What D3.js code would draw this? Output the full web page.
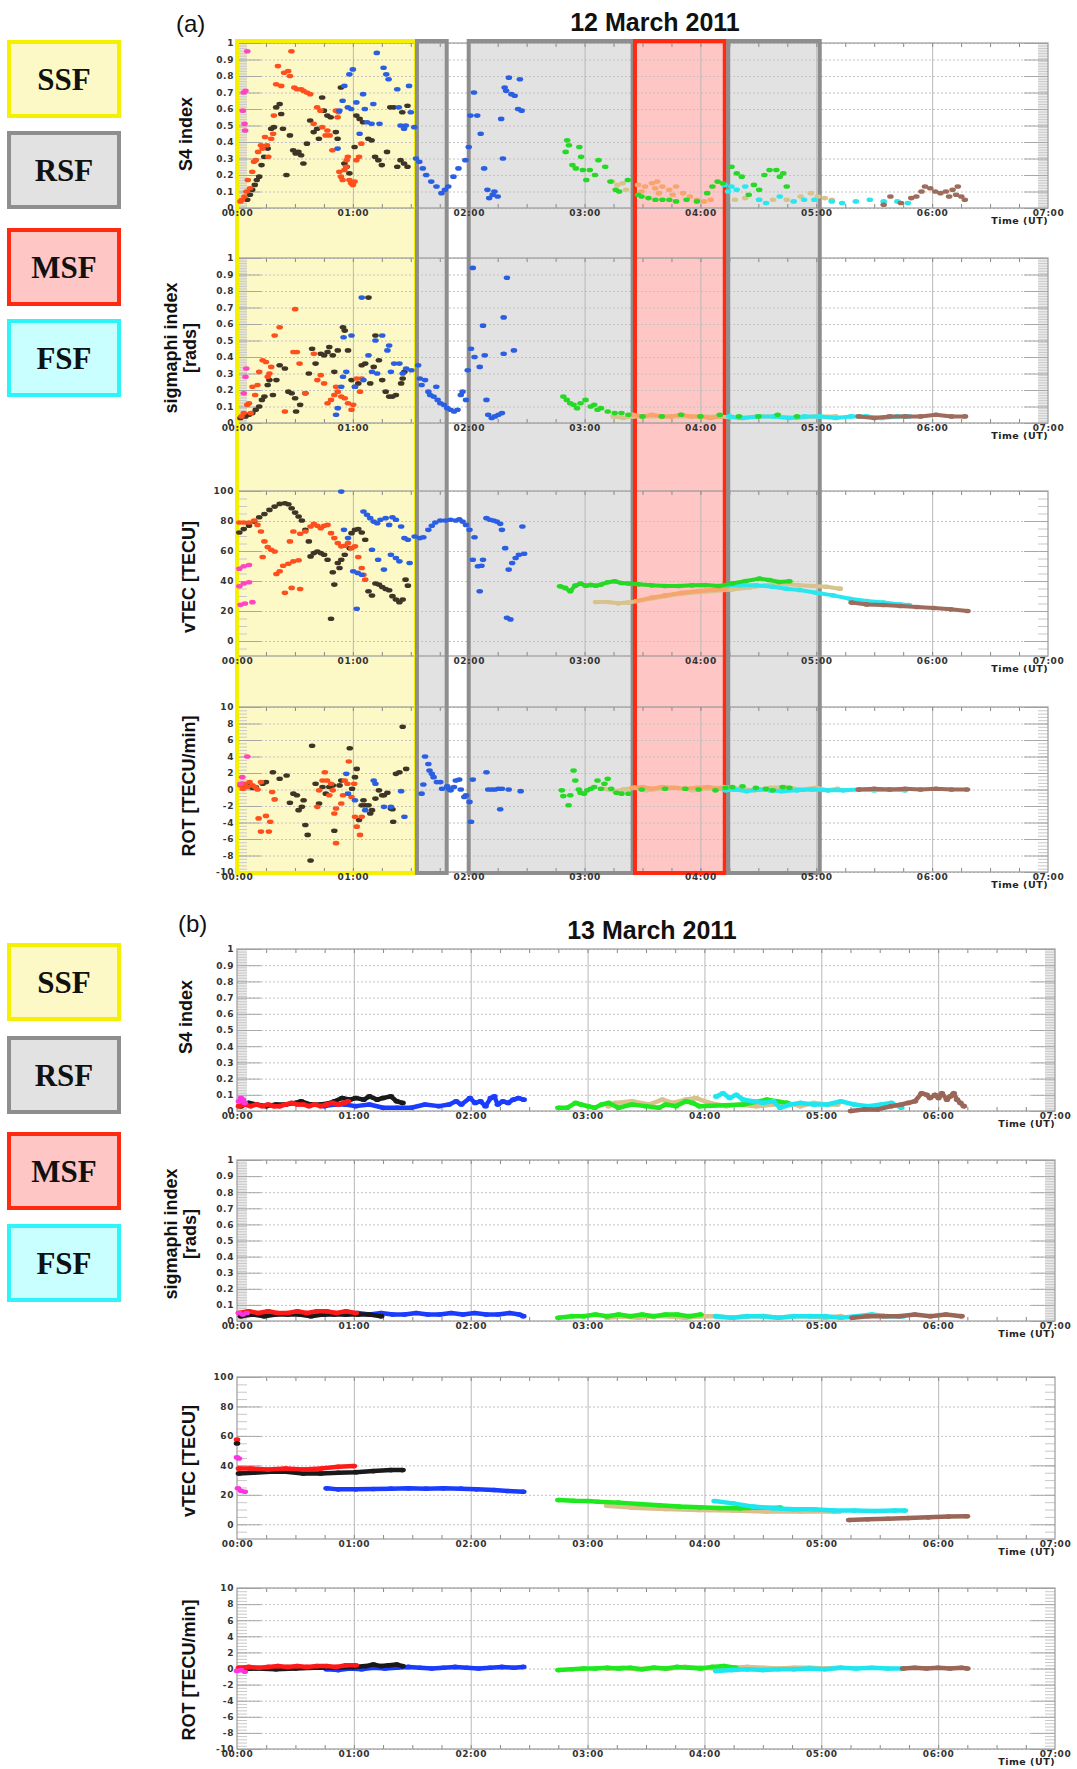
<!DOCTYPE html>
<html>
<head>
<meta charset="utf-8">
<script src="https://cdn.jsdelivr.net/npm/d3@7"></script>
<style>
  body { margin: 0; background: #fff; }
  text { font-family: "Liberation Sans", Arial, sans-serif; }
  .tick text { font-family: "DejaVu Sans", sans-serif; font-weight: bold; font-size: 9px; letter-spacing: 0.6px; fill: #333; }
  .legend-text { font-family: "Liberation Serif", "Times New Roman", serif; font-weight: bold; }
  .time-label { font-family: "DejaVu Sans", sans-serif; font-weight: bold; }
</style>
</head>
<body>
<svg id="fig"></svg>
<script>
// ---- axis / category data ----
const hourTicks = [0, 60, 120, 180, 240, 300, 360, 420];
const hourLabels = ["00:00", "01:00", "02:00", "03:00", "04:00", "05:00", "06:00", "07:00"];
const s4Ticks = [0, 0.1, 0.2, 0.3, 0.4, 0.5, 0.6, 0.7, 0.8, 0.9, 1];
const s4Labels = ["0", "0.1", "0.2", "0.3", "0.4", "0.5", "0.6", "0.7", "0.8", "0.9", "1"];
const tecTicks = [0, 20, 40, 60, 80, 100];
const rotTicks = [-10, -8, -6, -4, -2, 0, 2, 4, 6, 8, 10];
const legendNames = ["SSF", "RSF", "MSF", "FSF"];

// shaded intervals on 12 March (minutes after 00:00 UT)
const shadeKind = ["SSF", "RSF", "RSF", "MSF", "RSF"];
const shadeStart = [0, 93.2, 120, 206.1, 254.4];
const shadeEnd = [92.7, 108.6, 204.9, 252.6, 301.8];

// ---- 12 March 2011 : [minute, value] ----
const s4A_pink = [[5.3,.95],[4.4,.71],[3.5,.70],[3.0,.59],[3.9,.51],[4.2,.47]];
const s4A_orange = [[1.8,.04],[2.6,.05],[3.9,.07],[4.9,.10],[5.6,.17],[6.7,.12],[7.9,.22],[8.8,.28],[9.7,.29],[10.9,.34],[12.4,.38],[13.2,.36],[14.5,.43],[15.5,.38],[16.2,.31],[17.7,.42],[18.7,.45],[19.1,.56],[20.3,.75],[21.2,.86],[22.9,.74],[24.4,.82],[26.5,.83],[27.4,.80],[28.2,.95],[29.7,.73],[31.1,.72],[33.2,.72],[34.4,.71],[36.2,.70],[37.9,.69],[39.7,.51],[41.5,.61],[43.2,.59],[44.1,.49],[45.9,.44],[46.8,.47],[48.0,.44],[49.4,.35],[51.2,.59],[52.1,.55],[52.6,.58],[53.0,.22],[53.8,.19],[54.7,.17],[55.6,.23],[56.5,.25],[56.8,.29],[57.4,.31],[58.2,.17],[59.1,.15],[60.0,.14],[60.9,.16],[61.8,.29],[63.2,.31],[64.4,.39]];
const s4A_dark = [[5.3,.05],[6.7,.08],[7.9,.11],[9.2,.14],[10.2,.17],[11.5,.19],[12.7,.26],[14.1,.31],[15.9,.36],[17.7,.48],[19.1,.49],[20.3,.61],[22.1,.63],[22.9,.57],[23.8,.48],[25.6,.20],[27.4,.44],[29.1,.35],[30.4,.33],[31.8,.34],[33.2,.32],[34.4,.27],[36.2,.39],[37.9,.53],[39.7,.46],[41.5,.48],[42.4,.42],[44.1,.67],[45.0,.59],[46.8,.56],[48.5,.55],[51.2,.46],[52.1,.42],[53.8,.73],[55.6,.27],[56.8,.25],[58.2,.21],[60.9,.37],[61.8,.56],[63.5,.54],[65.3,.52],[68.0,.42],[69.7,.41],[71.5,.31],[73.2,.29],[75.0,.26],[77.7,.34],[79.4,.61],[81.2,.61],[83.0,.25],[84.7,.29],[85.6,.58],[86.5,.27],[88.3,.25],[88.3,.62]];
const s4A_blue = [[52.1,.36],[53.0,.59],[54.7,.65],[55.6,.74],[57.4,.61],[58.2,.81],[59.1,.60],[60.0,.84],[61.8,.64],[63.5,.45],[65.3,.69],[66.2,.60],[67.4,.52],[69.7,.51],[70.6,.63],[72.4,.94],[73.8,.51],[75.9,.85],[77.3,.81],[78.5,.78],[83.0,.72],[83.8,.61],[84.7,.50],[86.5,.48],[87.4,.50],[89.1,.74],[90.0,.58],[91.8,.49],[92.7,.30],[94.4,.28],[96.2,.24],[98.0,.20],[100.6,.16],[103.3,.13],[105.9,.09],[107.7,.11],[109.4,.13],[112.1,.19],[114.7,.24],[118.3,.29],[120.0,.37],[120.9,.56],[122.7,.70],[124.4,.56],[126.2,.45],[128.0,.24],[129.7,.11],[130.6,.06],[132.4,.08],[133.3,.10],[135.0,.07],[136.8,.54],[137.7,.30],[138.6,.73],[139.4,.71],[140.8,.79],[142.1,.69],[143.8,.68],[145.6,.60],[146.5,.78],[147.4,.59]];
const s4A_green = [[171.0,.41],[171.9,.38],[170.2,.34],[173.7,.26],[177.3,.37],[178.2,.31],[175.5,.24],[179.1,.23],[180.9,.17],[182.7,.23],[185.4,.20],[187.2,.29],[190.7,.25],[193.4,.16],[196.1,.11],[197.9,.10],[202.4,.17],[207.7,.08],[209.5,.07],[213.1,.06],[216.7,.05],[220.3,.05],[223.9,.05],[227.4,.04],[232.8,.05],[238.2,.04],[243.5,.09],[246.2,.13],[248.9,.16],[251.6,.15],[256.1,.25],[258.8,.21],[261.4,.19],[265.0,.08],[267.7,.14],[270.4,.11],[273.1,.20],[275.8,.23],[279.3,.23],[281.1,.19],[282.9,.21],[284.7,.13]];
const s4A_tan = [[194.3,.16],[197.0,.14],[199.7,.15],[201.5,.11],[257.9,.05],[263.2,.06],[270.4,.05],[277.6,.05],[284.7,.05],[291.9,.07],[297.2,.09],[300.8,.07],[304.4,.06],[308.0,.05]];
const s4A_peach = [[207.7,.14],[209.5,.10],[211.3,.13],[214.9,.15],[216.6,.12],[217.6,.16],[218.5,.09],[220.3,.13],[223.9,.11],[225.6,.08],[227.4,.13],[231.0,.09],[234.6,.07],[238.2,.05],[241.8,.04],[245.3,.05]];
const s4A_cyan = [[252.5,.14],[254.3,.10],[256.1,.13],[258.8,.11],[263.2,.13],[270.4,.05],[274.0,.03],[281.1,.07],[288.3,.04],[293.7,.05],[299.0,.05],[308.0,.04],[313.4,.03],[320.5,.04],[327.7,.05],[334.9,.04],[342.0,.04],[347.4,.03]];
const s4A_brown = [[334.9,.02],[338.4,.07],[343.8,.03],[349.2,.06],[351.8,.07],[354.5,.10],[356.3,.13],[359.0,.12],[361.6,.10],[364.3,.09],[367.1,.10],[368.8,.07],[370.6,.11],[372.4,.08],[373.3,.13],[375.1,.07],[376.9,.05]];

const sigA_pink = [[4.8,.33],[4.4,.28],[3.5,.18]];
const sigA_orange = [[2.3,.04],[3.5,.06],[5.3,.11],[6.2,.12],[7.1,.06],[8.0,.22],[9.4,.17],[10.6,.23],[11.5,.31],[13.3,.38],[15.0,.37],[15.9,.28],[16.8,.30],[17.7,.34],[19.5,.53],[22.1,.58],[24.8,.07],[29.2,.43],[31.0,.43],[32.4,.36],[30.1,.69],[35.4,.18],[39.8,.42],[41.6,.26],[43.4,.29],[45.1,.24],[46.9,.12],[48.7,.14],[50.4,.17],[51.3,.22],[52.2,.19],[54.0,.16],[55.8,.15],[57.5,.12],[59.3,.08],[60.2,.11],[62.0,.27],[63.7,.19],[64.6,.27]];
const sigA_dark = [[1.8,.03],[4.4,.04],[6.2,.05],[8.0,.06],[9.7,.08],[11.5,.10],[12.9,.14],[14.2,.16],[15.9,.23],[16.8,.26],[18.6,.17],[20.4,.26],[22.1,.35],[24.8,.33],[26.6,.19],[28.3,.18],[30.1,.15],[30.6,.07],[32.7,.11],[35.4,.18],[37.2,.30],[38.9,.45],[40.7,.36],[43.4,.42],[45.1,.41],[46.9,.43],[47.8,.46],[49.6,.41],[50.4,.31],[52.2,.44],[54.9,.58],[55.8,.56],[57.5,.44],[59.3,.26],[61.1,.22],[62.8,.24],[64.6,.35],[66.4,.36],[68.1,.76],[69.0,.24],[70.8,.34],[71.7,.53],[73.5,.38],[75.2,.26],[77.0,.19],[78.8,.16],[80.5,.16],[82.3,.17],[85.0,.24],[85.8,.27],[86.7,.31]];
const sigA_blue = [[51.3,.05],[52.2,.09],[54.0,.22],[54.9,.28],[56.6,.31],[55.2,.52],[59.3,.53],[61.1,.22],[64.6,.76],[65.5,.26],[68.1,.41],[69.9,.31],[71.7,.50],[72.6,.30],[75.2,.53],[77.9,.44],[78.8,.47],[79.7,.31],[81.4,.36],[84.1,.36],[85.8,.30],[87.6,.33],[90.3,.32],[93.8,.35],[94.7,.27],[95.6,.23],[97.4,.26],[99.1,.19],[100.0,.17],[101.8,.16],[103.2,.22],[103.9,.14],[105.3,.12],[107.1,.11],[108.9,.09],[110.6,.08],[112.4,.07],[114.2,.08],[115.9,.17],[116.8,.19],[118.6,.14],[119.5,.32],[121.2,.45],[122.1,.94],[123.0,.40],[125.7,.34],[127.4,.59],[128.3,.41],[129.2,.14],[130.1,.05],[131.9,.03],[133.6,.04],[135.4,.05],[137.2,.06],[138.1,.42],[138.1,.64],[139.8,.88],[143.4,.44]];
const sigA_green = [[169.0,.16],[170.8,.14],[172.6,.12],[174.3,.11],[176.1,.09],[177.9,.12],[180.5,.14],[183.2,.10],[185.0,.11],[186.7,.08],[188.5,.09],[192.0,.07],[195.6,.06],[199.1,.06],[202.7,.05],[210,.04],[220,.04],[230,.05],[240,.04],[250,.05],[260,.04],[270,.04],[280,.05],[290,.04]];
const sigA_tan = [[195,.04],[200,.03],[205,.04],[250,.04],[260,.03],[270,.04],[280,.04],[290,.03],[300,.04],[310,.04]];
const sigA_peach = [[205,.05],[210,.04],[215,.05],[220,.04],[225,.04],[230,.05],[235,.04],[240,.04],[245,.03],[250,.04]];
const sigA_cyan = [[255,.04],[262,.03],[270,.04],[278,.04],[286,.03],[294,.04],[302,.04],[310,.03],[318,.04],[326,.04],[334,.03],[342,.04],[348,.04]];
const sigA_brown = [[322,.04],[330,.03],[338,.04],[346,.04],[354,.04],[362,.05],[370,.04],[377,.04]];

const tecA_pink = [[1.2,48.2],[3.5,49.8],[6.2,50.7],[1.2,36.5],[3.5,38.3],[6.2,39.2],[1.8,24.1],[4.1,25.0],[8.0,25.9]];
const tecA_dark = [[1.2,72.3],[3.5,74.6],[6.2,76.8],[8.9,79.6],[11.5,82.5],[14.2,84.7],[16.8,87.4],[19.5,89.6],[22.1,91.4],[24.8,91.8],[26.6,91.2],[28.3,88.5],[30.1,85.6],[31.9,83.0],[33.6,80.3],[35.4,74.1],[37.2,66.4],[38.1,56.4],[39.8,58.6],[41.6,59.7],[43.4,58.6],[45.1,57.5],[46.9,54.2],[48.7,14.8],[49.6,45.8],[50.4,37.6],[52.2,52.0],[53.1,48.7],[54.0,54.2],[55.8,57.5],[58.4,61.9],[59.3,71.9],[61.1,74.1],[62.8,74.6],[64.6,72.3],[66.4,67.5],[68.1,33.2],[69.9,30.3],[71.7,38.3],[73.5,37.6],[75.2,36.0],[77.0,34.7],[78.8,33.8],[80.5,29.9],[82.3,27.7],[84.1,25.9],[85.8,27.7],[87.3,40.9],[88.5,36.9]];
const tecA_orange = [[1.2,79.0],[3.5,79.0],[6.2,79.0],[8.9,80.3],[10.6,77.4],[12.4,73.0],[14.2,66.4],[15.9,62.6],[17.7,60.8],[19.5,59.7],[13.3,56.0],[20.4,44.7],[22.1,46.5],[23.9,50.2],[26.6,51.5],[29.2,53.1],[31.9,53.8],[24.8,32.1],[28.3,35.4],[32.7,34.7],[27.4,66.4],[29.2,73.0],[32.7,71.5],[35.4,73.0],[38.1,76.3],[39.8,78.1],[41.6,76.8],[43.4,75.2],[45.1,76.8],[46.9,77.4],[48.7,71.9],[50.4,68.6],[52.2,65.3],[54.0,63.1],[55.8,63.5],[57.5,65.3],[59.3,61.9],[61.1,63.1],[62.8,56.0],[64.6,48.7],[65.5,44.2],[66.4,40.9]];
const tecA_blue = [[54.0,99.6],[55.4,74.1],[57.5,68.6],[60.2,46.5],[62.5,45.4],[64.6,44.2],[62.0,21.5],[65.5,86.3],[67.3,84.1],[69.0,81.9],[70.8,79.6],[72.6,78.5],[74.3,80.8],[77.0,81.9],[78.8,77.4],[80.5,82.5],[82.3,80.8],[85.0,76.3],[69.9,60.8],[73.1,54.2],[76.1,47.6],[79.7,57.5],[82.3,55.3],[84.1,53.1],[86.7,68.6],[88.5,67.5],[89.4,52.0],[92.0,69.7],[94.7,68.6],[96.5,69.2],[99.1,74.1],[100.9,76.8],[102.7,79.0],[105.3,80.3],[108.0,80.3],[110.6,80.8],[113.3,80.3],[115.1,81.2],[116.8,79.6],[118.6,77.4],[120.4,74.1],[122.1,54.2],[123.0,69.2],[124.8,49.8],[125.7,33.2],[126.6,50.2],[127.4,54.2],[129.2,81.9],[131.0,80.8],[132.8,80.3],[134.5,79.6],[136.3,78.1],[137.2,74.1],[138.9,61.9],[139.8,15.5],[140.7,47.6],[141.6,14.4],[142.5,52.0],[144.3,55.3],[146.0,57.5],[147.8,76.3],[148.7,58.2]];
const tecA_green = [[167.3,36.5],[169.9,35.4],[172.6,33.2],[175.2,36.9],[177.9,38.3],[180.5,36.9],[183.2,37.4],[185.9,36.9],[188.5,37.6],[192.0,39.2],[195.6,39.8],[199.1,38.7],[202.7,38.3],[207.8,37.8],[214.8,37.1],[221.7,36.7],[228.7,36.7],[235.7,37.1],[242.6,37.3],[249.6,36.7],[256.5,38.4],[263.5,40.0],[270.5,41.6],[275.7,40.7],[280.9,39.3],[286.1,39.8]];
const tecA_tan = [[185.9,26.0],[192.2,26.0],[197.4,25.1],[202.6,25.6],[230,31.5],[256.5,34.4],[265.2,35.6],[273.9,37.1],[282.6,38.4],[291.3,37.1],[298.3,36.7],[305.3,36.2],[312.2,34.9]];
const tecA_peach = [[206.9,26.7],[214.8,28.9],[221.7,30.4],[230.4,32.2],[239.1,33.3],[247.8,34.4],[253.0,34.4]];
const tecA_cyan = [[253.9,37.1],[260.0,37.1],[268.7,37.1],[277.4,36.2],[284.4,34.9],[291.3,34.0],[300.0,32.2],[308.7,30.4],[317.4,28.2],[326.1,26.7],[334.8,25.6],[343.5,24.4],[347.9,24.0]];
const tecA_brown = [[318.3,25.6],[326.1,24.4],[334.8,24.0],[343.5,23.3],[352.2,22.7],[360.9,22.0],[369.6,21.1],[378.3,20.0]];

const rotA_pink = [[5.3,4.0],[2.7,1.5],[1.8,0.7]];
const rotA_orange = [[1.8,.5],[3.0,.1],[4.1,.7],[5.3,.3],[6.5,.9],[8.0,.5],[9.4,.3],[10.6,0],[12.4,.9],[11.2,-3.5],[12.4,-5.1],[15.0,-3.2],[16.5,-5.1],[17.2,-3.9],[18.2,-.3],[19.5,-1.2],[41.6,-2.1],[42.5,-.1],[44.3,1.1],[45.5,2.1],[46.6,1.1],[47.8,-.7],[48.7,.7],[49.6,-.1],[50.4,-2.9],[51.3,-2.3],[51.3,-6.5],[54.0,-1.7],[54.9,-.7],[55.8,1.1],[57.2,.7],[57.9,3.4],[59.3,-.9],[60.7,.7],[61.1,-3.3],[62.0,-4.5],[63.7,-5.5],[64.6,-3.3]];
const rotA_dark = [[2.7,.7],[4.4,.5],[6.2,.4],[8.0,.2],[9.7,.3],[13.3,.7],[15.0,.9],[18.6,2.1],[22.1,1.3],[25.7,1.7],[27.4,-1.6],[29.2,-.5],[31.0,-.7],[31.9,-2.5],[33.6,-2.1],[34.5,-1.3],[35.4,-4.3],[36.6,-5.5],[38.1,-8.6],[38.9,5.3],[40.7,.7],[42.5,-1.7],[44.3,.3],[46.0,-.5],[47.8,.3],[49.6,.5],[50.4,-5.0],[53.1,.5],[54.0,1.1],[58.4,5.0],[59.6,.1],[61.1,1.5],[62.0,2.5],[63.2,-3.7],[64.6,-1.9],[65.5,-1.3],[66.4,-1.9],[68.1,-1.9],[69.0,-2.9],[69.9,-2.5],[71.7,-1.1],[73.5,-.1],[75.2,-.7],[76.1,-.7],[77.9,-.4],[79.7,-2.3],[80.5,-2.4],[80.9,-3.9],[82.3,1.9],[84.1,2.1],[85.8,7.6],[87.6,2.5]];
const rotA_blue = [[56.6,1.9],[57.5,-.5],[61.1,-1.3],[66.4,-2.5],[70.8,1.1],[71.7,.7],[76.1,-2.1],[79.7,-2.1],[85.0,-.2],[86.7,-3.3],[95.6,-.5],[96.5,.6],[97.4,4.0],[99.1,3.1],[99.7,2.3],[100.9,1.9],[101.8,1.5],[103.5,.9],[105.3,.9],[106.2,.1],[108.9,.4],[109.7,.1],[110.6,-.1],[112.4,.3],[113.3,1.1],[115.1,1.2],[115.9,0],[117.7,-.9],[118.6,-.7],[120.4,-1.5],[121.2,-3.9],[122.1,1.2],[129.2,2.1],[130.1,0],[131.9,0],[133.6,0],[135.4,.1],[136.3,-2.4],[137.2,.1],[140.7,0],[146.9,-.2]];
const rotA_green = [[168.2,-.1],[169.0,-.8],[171.7,-1.9],[172.6,-.7],[174.3,2.3],[175.2,1.1],[177.0,0],[177.9,-.4],[179.7,-.5],[181.4,-.1],[183.2,.1],[185.0,.3],[186.7,1.1],[188.5,.1],[190.3,.7],[192.0,1.3],[193.8,.1],[196.5,-.4],[199.1,-.5],[202.7,-.5],[209.6,0],[221.7,.1],[232.2,.1],[239.1,0],[247.8,-.1],[253.0,.2],[256.5,.3],[261.8,.4],[268.7,.2],[273.9,.1],[277.4,-.1],[282.6,.3],[286.1,.2]];
const rotA_tan = [[190,.1],[196,-.2],[200,0],[206,.2],[212,-.1],[220,.1],[228,.2],[236,-.1],[244,.1],[252,.3],[260,.1],[268,-.1],[276,.2],[284,.3],[292,0],[300,.2],[306,-.1],[311,.1]];
const rotA_peach = [[205,.2],[210,.3],[215,.1],[220,.3],[226,.2],[232,.1],[238,.2],[244,.3],[250,.1]];
const rotA_cyan = [[253,-.1],[258,0],[264,-.2],[270,0],[276,-.1],[282,-.2],[290,-.1],[298,0],[306,-.1],[314,-.1],[322,0],[330,-.1],[338,0],[346,-.1]];
const rotA_brown = [[322,0],[330,.1],[338,0],[346,.1],[354,0],[362,.1],[370,0],[378,0]];

// ---- 13 March 2011 : [minute, value] ----
const s4B_pink = [[1,.06],[2,.08],[3,.07],[4,.05]];
const s4B_red = [[1,.03],[4,.04],[7,.03],[10,.04],[13,.03],[16,.04],[19,.03],[22,.03],[25,.04],[28,.05],[31,.04],[34,.04],[37,.03],[40,.04],[43,.03],[46,.04],[49,.05],[52,.04],[55,.05],[57,.06]];
const s4B_black = [[2,.03],[6,.05],[10,.04],[15,.03],[20,.04],[25,.04],[30,.05],[33,.06],[38,.04],[43,.04],[48,.05],[50,.06],[54,.08],[58,.07],[61,.08],[65,.07],[68,.09],[72,.07],[75,.08],[79,.09],[82,.06],[85,.05]];
const s4B_blue = [[44.9,.03],[50.2,.04],[55.5,.04],[60.9,.03],[68.0,.04],[75.1,.02],[82.2,.02],[89.4,.02],[96.5,.04],[103.6,.03],[108.9,.04],[112.5,.06],[115.2,.04],[119.6,.08],[122.3,.05],[125.0,.06],[127.6,.03],[130.3,.08],[132.1,.09],[133.9,.04],[136.5,.06],[139.2,.05],[141.9,.07],[144.5,.08],[147.2,.07]];
const s4B_green = [[165.0,.02],[169.5,.02],[173.9,.05],[176.6,.04],[180.1,.03],[183.7,.02],[187.3,.04],[190.8,.05],[195.9,.02],[202.8,.04],[209.7,.03],[216.7,.02],[220.1,.04],[225.3,.03],[230.5,.06],[233.9,.05],[237.4,.03],[259.9,.04],[272.0,.07],[277.2,.06],[282.4,.05]];
const s4B_tan = [[190.8,.03],[194.2,.05],[202.8,.06],[211.5,.04],[218.4,.07],[223.6,.05],[230.5,.07],[235.7,.08],[242.6,.05],[251.2,.03],[258.2,.04],[266.8,.03],[275.4,.04],[282.4,.05],[289.3,.03],[296.2,.05],[303.1,.04],[308.3,.04]];
const s4B_cyan = [[246.1,.09],[249.5,.11],[253.0,.08],[256.4,.10],[259.9,.07],[265.1,.06],[270.3,.05],[275.4,.06],[278.9,.02],[284.1,.04],[289.3,.05],[296.2,.04],[303.1,.04],[310.0,.06],[316.9,.04],[323.9,.03],[330.8,.04],[336.0,.05],[341.1,.02]];
const s4B_brown = [[315.2,0],[322.1,.01],[329.0,.01],[336.0,.03],[341.1,.04],[344.6,.05],[348.1,.06],[351.5,.11],[354.1,.10],[355.8,.08],[358.4,.10],[360.2,.08],[361.9,.11],[364.5,.07],[366.2,.09],[368.0,.11],[369.7,.07],[371.4,.05],[373.2,.03]];

const sigB_pink = [[1,.05],[3,.04],[5,.05]];
const sigB_red = [[1,.05],[6,.06],[11,.05],[16,.06],[21,.05],[26,.05],[31,.06],[36,.05],[41,.06],[46,.06],[51,.05],[56,.06],[61,.05]];
const sigB_black = [[2,.03],[8,.04],[14,.03],[20,.04],[26,.04],[32,.04],[38,.03],[44,.04],[50,.04],[56,.04],[62,.04],[68,.04],[74,.03]];
const sigB_blue = [[45,.04],[50,.05],[56,.04],[62,.05],[68,.04],[74,.05],[80,.04],[86,.04],[92,.05],[98,.04],[104,.04],[110,.05],[116,.04],[122,.05],[128,.04],[134,.04],[140,.05],[145,.04],[147,.03]];
const sigB_green = [[165,.02],[172,.03],[178,.03],[184,.04],[190,.03],[196,.04],[202,.03],[208,.04],[214,.03],[220,.04],[226,.04],[232,.03],[238,.04]];
const sigB_tan = [[190,.02],[198,.03],[206,.02],[214,.03],[222,.03],[230,.02],[238,.03],[246,.03],[254,.02],[262,.03],[270,.03],[278,.02],[286,.03],[294,.03],[302,.02],[310,.03]];
const sigB_cyan = [[246,.03],[254,.02],[262,.03],[270,.03],[278,.02],[286,.03],[294,.03],[302,.03],[310,.02],[318,.03],[326,.04],[334,.03],[342,.03]];
const sigB_brown = [[316,.02],[324,.03],[332,.03],[340,.03],[348,.04],[356,.03],[364,.04],[372,.03]];

const tecB_pink = [[0,45.4],[1,44.7],[0.5,24.4],[2,22.8],[4,22.1]];
const tecB_startDots = [[0,57.6],[0,54.9]];
const tecB_red = [[1,37.9],[7,37.9],[16,37.2],[25,37.9],[34,37.2],[43,37.9],[52,39.0],[60,39.5]];
const tecB_black = [[1,34.5],[8,35.0],[17,35.7],[25,35.7],[34,34.5],[43,34.5],[52,35.0],[61,35.4],[70,36.1],[79,36.8],[85,36.8]];
const tecB_blue = [[46,24.4],[52,23.7],[61,23.7],[70,23.9],[79,24.2],[88,24.4],[97,24.2],[106,24.4],[115,24.2],[123,23.7],[132,23.3],[139,22.6],[147,22.1]];
const tecB_green = [[165.0,16.5],[173.0,16.0],[180.1,15.8],[185.5,15.3],[195.9,14.7],[206.3,13.8],[216.7,12.9],[227.0,12.0],[237.4,11.5],[247.8,11.1],[258.2,10.8],[265.1,11.3],[278.9,11.3]];
const tecB_tan = [[190,12.6],[202.8,11.3],[220.1,10.4],[237.4,9.7],[254.7,9.3],[272.0,8.6],[289.3,8.6],[306.6,8.6],[309.2,8.6]];
const tecB_cyan = [[245.2,15.8],[254.7,14.2],[265.1,12.0],[275.4,10.8],[285.8,10.2],[296.2,10.2],[306.6,9.3],[317.0,9.3],[327.3,9.0],[337.7,9.3],[342.9,9.3]];
const tecB_brown = [[314.3,2.9],[323.9,3.4],[334.2,3.8],[344.6,4.3],[355.0,4.7],[365.3,5.2],[374.8,5.4]];

const rotB_pink = [[0,-.3],[2,-.2],[4,-.4]];
const rotB_red = [[1,.1],[6,.2],[11,.1],[16,.2],[21,.3],[26,.2],[31,.3],[36,.2],[41,.3],[46,.3],[51,.2],[56,.4],[61,.4]];
const rotB_black = [[1,-.1],[10,0],[20,-.1],[30,0],[40,.1],[50,.1],[60,.2],[66,.3],[70,.5],[74,.3],[78,.4],[82,.5],[85,.3]];
const rotB_blue = [[46,-.1],[52,-.2],[58,0],[64,-.1],[70,.1],[76,0],[82,.1],[88,.2],[94,.1],[100,0],[106,.1],[112,.2],[118,.1],[124,0],[130,.1],[136,.2],[142,.1],[147,.2]];
const rotB_green = [[165,-.2],[172,-.1],[178,0],[184,0],[190,.1],[196,0],[202,.1],[208,-.1],[214,.1],[220,0],[226,.2],[232,.1],[238,0],[244,.2],[250,.3],[256,.1]];
const rotB_tan = [[190,0],[198,.1],[206,-.1],[214,.1],[222,0],[230,.2],[238,.1],[246,0],[254,.1],[262,.2],[270,.1],[278,0],[286,.1],[294,.1],[302,0],[310,.1]];
const rotB_cyan = [[246,-.3],[254,-.2],[262,-.1],[270,-.2],[278,-.1],[286,-.1],[294,0],[302,-.1],[310,.1],[318,0],[326,.1],[334,0],[342,0]];
const rotB_brown = [[342,0],[348,.1],[354,0],[360,.1],[366,0],[372,.1],[375,0]];

// ---- styles ----
const colA = { pink: "#ff45c0", orange: "#ff4f1c", dark: "#3e3526", blue: "#2b5fe3", green: "#27d827",
  tan: "#d8c28e", peach: "#f6a56c", cyan: "#2ae7ef", brown: "#9d6c5c" };
const colB = { pink: "#ff33e0", red: "#ff1a1a", black: "#1a1a1a", blue: "#1a3cff", green: "#1ee81e",
  tan: "#d9c08c", cyan: "#1ee6f0", brown: "#9a6658" };
const boxStyle = {
  SSF: { fill: "#fdf9c6", stroke: "#f4f000" },
  RSF: { fill: "#e2e2e2", stroke: "#8e8e8e" },
  MSF: { fill: "#ffc6c6", stroke: "#ff2a10" },
  FSF: { fill: "#caffff", stroke: "#2cf4f8" }
};

const svg = d3.select("#fig").attr("width", 1077).attr("height", 1769);
svg.append("rect").attr("width", 1077).attr("height", 1769).attr("fill", "#fff");

const gFill = svg.append("g");
const gGrid = svg.append("g");
const gBorder = svg.append("g");
const gData = svg.append("g");
const gText = svg.append("g");

const figA = {
  x: d3.scaleLinear().domain([0, 420]).range([237, 1048]),
  panels: [
    { top: 43, bottom: 208, domain: [0, 1], ticks: s4Ticks, fmt: (d, i) => s4Labels[i], minor: 0.01,
      title: ["S4 index"], tx: [192], ty: 134,
      series: [[s4A_tan, "tan"], [s4A_peach, "peach"], [s4A_cyan, "cyan"], [s4A_brown, "brown"], [s4A_green, "green"],
               [s4A_dark, "dark"], [s4A_orange, "orange"], [s4A_blue, "blue"], [s4A_pink, "pink"]], lines: [] },
    { top: 258, bottom: 423, domain: [0, 1], ticks: s4Ticks, fmt: (d, i) => s4Labels[i], minor: 0.01,
      title: ["sigmaphi index", "[rads]"], tx: [177, 196], ty: 348,
      series: [[sigA_tan, "tan"], [sigA_peach, "peach"], [sigA_cyan, "cyan"], [sigA_brown, "brown"], [sigA_green, "green"],
               [sigA_dark, "dark"], [sigA_orange, "orange"], [sigA_blue, "blue"], [sigA_pink, "pink"]],
      lines: ["tan", "peach", "cyan", "brown"] },
    { top: 491, bottom: 656, domain: [-10, 100], ticks: tecTicks, fmt: d => String(d), minor: 5,
      title: ["vTEC [TECU]"], tx: [195], ty: 577,
      series: [[tecA_tan, "tan"], [tecA_peach, "peach"], [tecA_cyan, "cyan"], [tecA_brown, "brown"], [tecA_green, "green"],
               [tecA_dark, "dark"], [tecA_orange, "orange"], [tecA_blue, "blue"], [tecA_pink, "pink"]],
      lines: ["tan", "peach", "cyan", "brown", "green"] },
    { top: 707, bottom: 872, domain: [-10, 10], ticks: rotTicks, fmt: d => String(d), minor: 0.4,
      title: ["ROT [TECU/min]"], tx: [195], ty: 786,
      series: [[rotA_tan, "tan"], [rotA_peach, "peach"], [rotA_cyan, "cyan"], [rotA_brown, "brown"], [rotA_green, "green"],
               [rotA_dark, "dark"], [rotA_orange, "orange"], [rotA_blue, "blue"], [rotA_pink, "pink"]],
      lines: ["tan", "peach", "cyan", "brown"] }
  ]
};
const figB = {
  x: d3.scaleLinear().domain([0, 420]).range([237, 1055]),
  panels: [
    { top: 949, bottom: 1111, domain: [0, 1], ticks: s4Ticks, fmt: (d, i) => s4Labels[i], minor: 0.01,
      title: ["S4 index"], tx: [192], ty: 1017,
      series: [[s4B_tan, "tan"], [s4B_green, "green"], [s4B_cyan, "cyan"], [s4B_brown, "brown"], [s4B_blue, "blue"],
               [s4B_black, "black"], [s4B_red, "red"], [s4B_pink, "pink"]] },
    { top: 1160, bottom: 1321, domain: [0, 1], ticks: s4Ticks, fmt: (d, i) => s4Labels[i], minor: 0.01,
      title: ["sigmaphi index", "[rads]"], tx: [177, 196], ty: 1234,
      series: [[sigB_tan, "tan"], [sigB_green, "green"], [sigB_cyan, "cyan"], [sigB_brown, "brown"], [sigB_blue, "blue"],
               [sigB_black, "black"], [sigB_red, "red"], [sigB_pink, "pink"]] },
    { top: 1377, bottom: 1539, domain: [-10, 100], ticks: tecTicks, fmt: d => String(d), minor: 5,
      title: ["vTEC [TECU]"], tx: [195], ty: 1461,
      series: [[tecB_tan, "tan"], [tecB_green, "green"], [tecB_cyan, "cyan"], [tecB_brown, "brown"], [tecB_blue, "blue"],
               [tecB_black, "black"], [tecB_red, "red"], [tecB_pink, "pink"]] },
    { top: 1588, bottom: 1749, domain: [-10, 10], ticks: rotTicks, fmt: d => String(d), minor: 0.4,
      title: ["ROT [TECU/min]"], tx: [195], ty: 1670,
      series: [[rotB_tan, "tan"], [rotB_green, "green"], [rotB_cyan, "cyan"], [rotB_brown, "brown"], [rotB_blue, "blue"],
               [rotB_black, "black"], [rotB_red, "red"], [rotB_pink, "pink"]] }
  ]
};

function styleLines(sel, color, dash) {
  sel.select(".domain").remove();
  sel.selectAll("line").attr("stroke", color).attr("stroke-dasharray", dash || null);
}

function drawPanel(x, p) {
  const [x0, x1] = x.range();
  const y = d3.scaleLinear().domain(p.domain).range([p.bottom, p.top]);
  const w = x1 - x0, h = p.bottom - p.top;
  const minorVals = d3.range(p.domain[0], p.domain[1] + p.minor / 2, p.minor);

  // horizontal dotted grid
  gGrid.append("g").attr("transform", `translate(${x0},0)`)
    .call(d3.axisLeft(y).tickValues(p.ticks).tickSize(-w).tickFormat(""))
    .call(s => styleLines(s, "#c2c2c2", "2,2"));
  // vertical hour grid
  gGrid.append("g").attr("transform", `translate(0,${p.bottom})`)
    .call(d3.axisBottom(x).tickValues(hourTicks.slice(1, -1)).tickSize(-h).tickFormat(""))
    .call(s => styleLines(s, "#b8b8b8"));
  // minor ladders left/right
  gGrid.append("g").attr("transform", `translate(${x0},0)`)
    .call(d3.axisLeft(y).tickValues(minorVals).tickSize(-10).tickFormat(""))
    .call(s => styleLines(s, "#c8c8c8"));
  gGrid.append("g").attr("transform", `translate(${x1},0)`)
    .call(d3.axisRight(y).tickValues(minorVals).tickSize(-10).tickFormat(""))
    .call(s => styleLines(s, "#c8c8c8"));
  gGrid.append("g").attr("transform", `translate(${x0},0)`)
    .call(d3.axisLeft(y).tickValues(p.ticks).tickSize(-24).tickFormat(""))
    .call(s => styleLines(s, "#a8a8a8"));
  gGrid.append("g").attr("transform", `translate(${x1},0)`)
    .call(d3.axisRight(y).tickValues(p.ticks).tickSize(-24).tickFormat(""))
    .call(s => styleLines(s, "#a8a8a8"));
  // quarter-hour ticks top and bottom
  const quarters = d3.range(15, 420, 15);
  gGrid.append("g").attr("transform", `translate(0,${p.top})`)
    .call(d3.axisTop(x).tickValues(quarters).tickSize(-4).tickFormat(""))
    .call(s => styleLines(s, "#888"));
  gGrid.append("g").attr("transform", `translate(0,${p.bottom})`)
    .call(d3.axisBottom(x).tickValues(quarters).tickSize(-4).tickFormat(""))
    .call(s => styleLines(s, "#888"));
  // frame
  gGrid.append("rect").attr("x", x0).attr("y", p.top).attr("width", w).attr("height", h)
    .attr("fill", "none").attr("stroke", "#9c9c9c").attr("stroke-width", 1.2);

  // tick labels
  gText.append("g").attr("transform", `translate(${x0},0)`)
    .call(d3.axisLeft(y).tickValues(p.ticks).tickSize(0).tickPadding(3).tickFormat(p.fmt))
    .call(s => s.select(".domain").remove());
  gText.append("g").attr("transform", `translate(0,${p.bottom})`)
    .call(d3.axisBottom(x).tickValues(hourTicks).tickSize(0).tickPadding(2).tickFormat((d, i) => hourLabels[i]))
    .call(s => s.select(".domain").remove());
  gText.append("text").attr("class", "time-label").attr("x", x1).attr("y", p.bottom + 16)
    .attr("text-anchor", "end").attr("font-size", 9.5)
    .attr("letter-spacing", 0.5).attr("fill", "#222").text("Time (UT)");

  // axis title
  p.title.forEach((t, i) => {
    gText.append("text")
      .attr("transform", `translate(${p.tx[i]},${p.ty}) rotate(-90)`)
      .attr("text-anchor", "middle").attr("font-size", 18).attr("font-weight", "bold")
      .attr("fill", "#111").text(t);
  });
  return y;
}

function drawSeries(x, y, data, color, asLine, lw) {
  if (asLine) {
    gData.append("path").datum(data)
      .attr("d", d3.line().x(d => x(d[0])).y(d => y(d[1])))
      .attr("fill", "none").attr("stroke", color).attr("stroke-width", lw)
      .attr("stroke-linecap", "round").attr("stroke-linejoin", "round");
  }
  gData.append("g").selectAll("ellipse").data(data).join("ellipse")
    .attr("cx", d => x(d[0])).attr("cy", d => y(d[1]))
    .attr("rx", 3.3).attr("ry", 2.3).attr("fill", color);
}

function drawLegend(tops) {
  legendNames.forEach((name, i) => {
    gText.append("rect").attr("x", 9).attr("y", tops[i]).attr("width", 110).attr("height", 74)
      .attr("fill", boxStyle[name].fill).attr("stroke", boxStyle[name].stroke).attr("stroke-width", 4);
    gText.append("text").attr("class", "legend-text").attr("x", 64).attr("y", tops[i] + 48)
      .attr("text-anchor", "middle").attr("font-size", 31).attr("fill", "#111").text(name);
  });
}

// ---- (a) 12 March 2011 ----
const xa = figA.x;
shadeKind.forEach((k, i) => {
  gFill.append("rect").attr("x", xa(shadeStart[i])).attr("y", 41)
    .attr("width", xa(shadeEnd[i]) - xa(shadeStart[i])).attr("height", 832)
    .attr("fill", boxStyle[k].fill);
  gBorder.append("rect").attr("x", xa(shadeStart[i])).attr("y", 41)
    .attr("width", xa(shadeEnd[i]) - xa(shadeStart[i])).attr("height", 832)
    .attr("fill", "none").attr("stroke", boxStyle[k].stroke).attr("stroke-width", 4);
});
figA.panels.forEach(p => {
  const y = drawPanel(xa, p);
  p.series.forEach(([d, c]) => drawSeries(xa, y, d, colA[c], p.lines.includes(c), 4));
});

// ---- (b) 13 March 2011 ----
const xb = figB.x;
figB.panels.forEach((p, pi) => {
  const y = drawPanel(xb, p);
  p.series.forEach(([d, c]) => drawSeries(xb, y, d, colB[c], c !== "pink", 4.5));
  if (pi === 2) {
    drawSeries(xb, y, tecB_startDots.slice(0, 1), colB.red, false);
    drawSeries(xb, y, tecB_startDots.slice(1), colB.black, false);
  }
});

drawLegend([42, 133, 230, 321]);
drawLegend([945, 1038, 1134, 1226]);

// titles
gText.append("text").attr("x", 176).attr("y", 32).attr("font-size", 24).attr("fill", "#111").text("(a)");
gText.append("text").attr("x", 655).attr("y", 31).attr("text-anchor", "middle").attr("font-size", 25)
  .attr("font-weight", "bold").attr("fill", "#111").text("12 March 2011");
gText.append("text").attr("x", 178).attr("y", 932).attr("font-size", 24).attr("fill", "#111").text("(b)");
gText.append("text").attr("x", 652).attr("y", 939).attr("text-anchor", "middle").attr("font-size", 25)
  .attr("font-weight", "bold").attr("fill", "#111").text("13 March 2011");
</script>
</body>
</html>
